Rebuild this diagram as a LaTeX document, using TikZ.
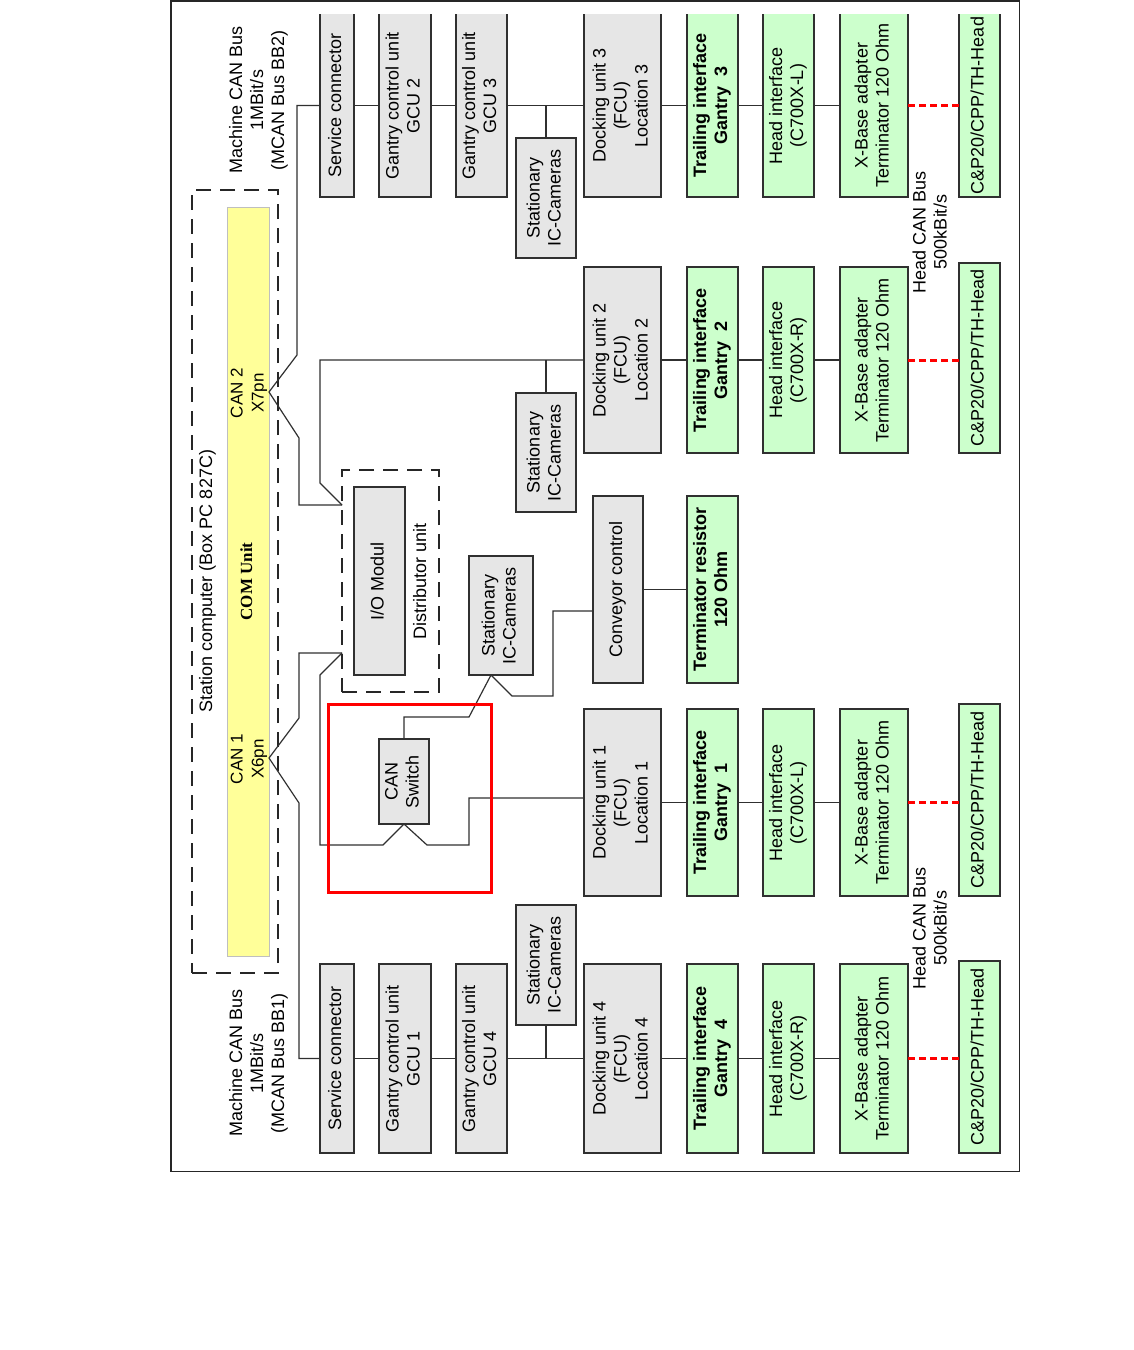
\documentclass[tikz,border=0pt]{standalone}
\usepackage{fontspec}
\setmainfont{Liberation Sans}
\newfontfamily\serifface{Liberation Serif}
\usepackage{graphicx}
\definecolor{boxgray}{HTML}{E6E6E6}
\definecolor{boxgreen}{HTML}{CCFFCC}
\definecolor{comyellow}{HTML}{FFFF99}
\definecolor{linegray}{HTML}{303030}
\newcommand{\vtext}[1]{\rotatebox{90}{\begin{tabular}{@{}c@{}}#1\end{tabular}}}
% \bbox{style}{x1}{y1}{x2}{y2}{name}{text}
\newcommand{\bbox}[7]{\node[#1, minimum width={(#4)-(#2)}, minimum height={(#5)-(#3)}] (#6) at ({((#2)+(#4))/2},{((#3)+(#5))/2}) {\vtext{#7}};}
\begin{document}
\begin{tikzpicture}[x=1pt,y=-1pt,font=\fontsize{18}{21}\selectfont,
 boxbase/.style={inner sep=0pt, outer sep=0pt, line width=1.5pt, draw=linegray, text=black},
 graybox/.style={boxbase, fill=boxgray},
 greenbox/.style={boxbase, fill=boxgreen},
 opengray/.style={graybox, draw=none},
 opengreen/.style={greenbox, draw=none},
 yellowbox/.style={inner sep=0pt, outer sep=0pt, fill=comyellow, draw=black!25, line width=0.8pt},
 edgeline/.style={line width=1.5pt, draw=linegray},
 conn/.style={draw=linegray, line width=1.2pt},
 reddash/.style={draw=red, line width=3pt, dash pattern=on 7pt off 4pt},
 dashbox/.style={draw=black!85, line width=1.3pt, dash pattern=on 15pt off 9pt, inner sep=0pt, outer sep=0pt},
 redframe/.style={draw=red, line width=3pt, inner sep=0pt, outer sep=0pt},
 lbl/.style={inner sep=0pt, text=black}]

\fill[white] (0,0) rectangle (1134,1350);
\useasboundingbox (0,0) rectangle (1134,1350);

% outer frame
\draw[line width=1.5pt, draw=black!85] (170.75,0.75) rectangle (1019.5,1171.5);

% station computer
\bbox{dashbox}{192}{190}{278}{973}{stc}{}
\bbox{yellowbox}{227}{207}{269}{956}{com}{\serifface\bfseries\fontsize{17}{20}\selectfont COM Unit}
\node[lbl] (stclbl) at (208,581) {\vtext{Station computer (Box PC 827C)}};
\node[lbl, font=\fontsize{17}{21}\selectfont] (lcan2) at (249,393) {\vtext{CAN 2\\X7pn}};
\node[lbl, font=\fontsize{17}{21}\selectfont] (lcan1) at (249,759) {\vtext{CAN 1\\X6pn}};
\coordinate (can2) at (269,392);
\coordinate (can1) at (269,758);

% bus labels
\node[lbl] (bb2) at (259,100) {\vtext{Machine CAN Bus\\1MBit/s\\(MCAN Bus BB2)}};
\node[lbl] (bb1) at (259,1063) {\vtext{Machine CAN Bus\\1MBit/s\\(MCAN Bus BB1)}};
\node[lbl] (hcan2) at (932,232) {\vtext{Head CAN Bus\\500kBit/s}};
\node[lbl] (hcan1) at (932,928) {\vtext{Head CAN Bus\\500kBit/s}};

% distributor
\bbox{dashbox}{342}{470}{439}{692}{dist}{}
\bbox{graybox}{354}{487}{405}{675}{io}{I/O Modul}
\node[lbl] (distlbl) at (422,581) {\vtext{Distributor unit}};
\coordinate (din2) at (342,505);
\coordinate (din1) at (342,653);

% top row (location 3)
\bbox{opengray}{320}{14}{354}{197}{sc2}{Service connector}
\bbox{opengray}{379}{14}{431}{197}{gcu2}{Gantry control unit\\GCU 2}
\bbox{opengray}{456}{14}{507}{197}{gcu3}{Gantry control unit\\GCU 3}
\bbox{opengray}{584}{14}{661}{197}{du3}{Docking unit 3\\(FCU)\\Location 3}
\bbox{opengreen}{687}{14}{738}{197}{ti3}{\textbf{Trailing interface}\\\textbf{Gantry\ \ 3}}
\bbox{opengreen}{763}{14}{814}{197}{hi3}{Head interface\\(C700X-L)}
\bbox{opengreen}{840}{14}{908}{197}{xb3}{X-Base adapter\\Terminator 120 Ohm}
\bbox{opengreen}{959}{14}{1000}{197}{cp3}{C\&P20/CPP/TH-Head}
\foreach \n in {sc2,gcu2,gcu3,du3,ti3,hi3,xb3,cp3}
  \draw[edgeline] (\n.north west) -- (\n.south west) -- (\n.south east) -- (\n.north east);
\bbox{graybox}{516}{138}{576}{258}{cam3}{Stationary\\IC-Cameras}

% row 2
\bbox{graybox}{516}{393}{576}{512}{cam2}{Stationary\\IC-Cameras}
\bbox{graybox}{584}{267}{661}{453}{du2}{Docking unit 2\\(FCU)\\Location 2}
\bbox{greenbox}{687}{267}{738}{453}{ti2}{\textbf{Trailing interface}\\\textbf{Gantry\ \ 2}}
\bbox{greenbox}{763}{267}{814}{453}{hi2}{Head interface\\(C700X-R)}
\bbox{greenbox}{840}{267}{908}{453}{xb2}{X-Base adapter\\Terminator 120 Ohm}
\bbox{greenbox}{959}{263}{1000}{453}{cp2}{C\&P20/CPP/TH-Head}

% middle
\bbox{graybox}{469}{556}{533}{675}{cammid}{Stationary\\IC-Cameras}
\coordinate (camfork) at (491,675);
\bbox{graybox}{593}{496}{643}{683}{conv}{Conveyor control}
\bbox{greenbox}{687}{496}{738}{683}{term}{\textbf{Terminator resistor}\\\textbf{120 Ohm}}
\bbox{graybox}{379}{739}{429}{824}{sw}{CAN\\Switch}

% row 1
\bbox{graybox}{584}{709}{661}{896}{du1}{Docking unit 1\\(FCU)\\Location 1}
\bbox{greenbox}{687}{709}{738}{896}{ti1}{\textbf{Trailing interface}\\\textbf{Gantry\ \ 1}}
\bbox{greenbox}{763}{709}{814}{896}{hi1}{Head interface\\(C700X-L)}
\bbox{greenbox}{840}{709}{908}{896}{xb1}{X-Base adapter\\Terminator 120 Ohm}
\bbox{greenbox}{959}{704}{1000}{896}{cp1}{C\&P20/CPP/TH-Head}

% row 4
\bbox{graybox}{320}{964}{354}{1153}{sc1}{Service connector}
\bbox{graybox}{379}{964}{431}{1153}{gcu1}{Gantry control unit\\GCU 1}
\bbox{graybox}{456}{964}{507}{1153}{gcu4}{Gantry control unit\\GCU 4}
\bbox{graybox}{516}{905}{576}{1025}{cam4}{Stationary\\IC-Cameras}
\bbox{graybox}{584}{964}{661}{1153}{du4}{Docking unit 4\\(FCU)\\Location 4}
\bbox{greenbox}{687}{964}{738}{1153}{ti4}{\textbf{Trailing interface}\\\textbf{Gantry\ \ 4}}
\bbox{greenbox}{763}{964}{814}{1153}{hi4}{Head interface\\(C700X-R)}
\bbox{greenbox}{840}{964}{908}{1153}{xb4}{X-Base adapter\\Terminator 120 Ohm}
\bbox{greenbox}{959}{961}{1000}{1153}{cp4}{C\&P20/CPP/TH-Head}

% connectors: bus BB2
\draw[conn] (sc2.west) -| (297,355) -- (can2) -- (299,438) -- (299,505) -- (din2);
\draw[conn] (sc2.east) -- (gcu2.west) (gcu2.east) -- (gcu3.west) (gcu3.east) -- (du3.west)
  (du3.east) -- (ti3.west) (ti3.east) -- (hi3.west) (hi3.east) -- (xb3.west);
\draw[conn] (cam3.north) -- (cam3.north |- gcu3.east);
\draw[reddash] (xb3.east) -- (cp3.west |- xb3.east);

% row 2
\draw[conn] (du2.west) -| (320,483) -- (din2);
\draw[conn] (cam2.north) -- (cam2.north |- du2.west);
\draw[conn] (du2.east) -- (ti2.west) (ti2.east) -- (hi2.west) (hi2.east) -- (xb2.west);
\draw[reddash] (xb2.east) -- (cp2.west |- xb2.east);

% bus BB1 and CAN switch
\draw[conn] (sc1.west) -| (299,803) -- (can1) -- (299,718) -- (299,653) -- (din1);
\draw[conn] (din1) -- (320,675) -- (320,845) -- (383,845) -- (sw.south) -- (427,845) -- (469,845) -- (469,798) -- (du1.west |- 0,798);
\draw[conn] (sw.north) -- (sw.north |- 0,717) -- (469,717) -- (camfork) -- (512,696) -- (553,696) -- (553,611) -- (conv.west |- 0,611);
\draw[conn] (conv.east) -- (term.west);

% row 1
\draw[conn] (du1.east) -- (ti1.west) (ti1.east) -- (hi1.west) (hi1.east) -- (xb1.west);
\draw[reddash] (xb1.east) -- (cp1.west |- xb1.east);

% row 4
\draw[conn] (sc1.east) -- (gcu1.west) (gcu1.east) -- (gcu4.west) (gcu4.east) -- (du4.west)
  (du4.east) -- (ti4.west) (ti4.east) -- (hi4.west) (hi4.east) -- (xb4.west);
\draw[conn] (cam4.south) -- (cam4.south |- gcu4.east);
\draw[reddash] (xb4.east) -- (cp4.west |- xb4.east);

% red highlight
\bbox{redframe}{328}{704}{491}{892}{redbox}{}
\end{tikzpicture}
\end{document}
